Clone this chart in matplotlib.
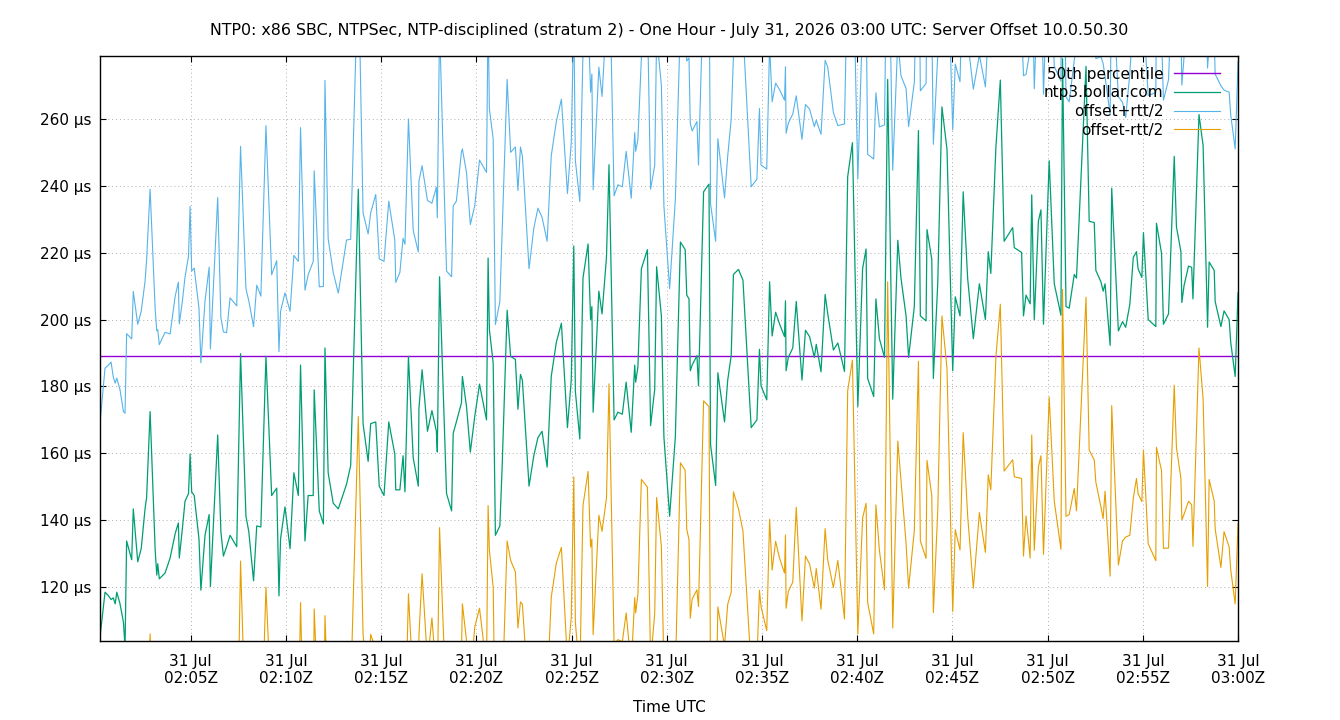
"""NTP server offset chart - one hour view"""

import pandas as pd
import numpy as np
import matplotlib
matplotlib.use('Agg')
import matplotlib.pyplot as plt
import matplotlib.dates as mdates
from matplotlib.ticker import FuncFormatter, MultipleLocator

# sample times, seconds after 2026-07-31 02:00:00 UTC
sample_secs = [
    14, 30, 41, 49, 56, 62, 67, 77, 88, 93, 98, 114, 119, 133, 144, 156, 161, 172, 188, 193,
    196, 201, 219, 235, 251, 261, 264, 274, 282, 293, 298, 303, 311, 326, 332, 345, 358, 362, 385, 395,
    403, 413, 424, 445, 457, 474, 483, 498, 508, 521, 537, 555, 571, 578, 583, 597, 613, 625,
    639, 646, 660, 670, 686, 689, 705, 718, 723, 733, 749, 765, 791, 804, 828, 843, 859, 867, 883, 894,
    909, 924, 943, 946, 959, 969, 975, 986, 1001, 1017, 1019, 1029, 1046, 1060, 1074, 1077, 1084, 1106,
    1122, 1127, 1137, 1153, 1156, 1169, 1181, 1195, 1210, 1232, 1237,
    1241, 1253, 1260, 1274, 1281, 1297, 1308, 1323, 1331, 1339, 1345, 1366, 1381, 1394, 1407, 1423,
    1436, 1452, 1468, 1487, 1499, 1507, 1512, 1526, 1536, 1552, 1560, 1564, 1568, 1586, 1596, 1610,
    1618, 1634, 1646, 1660, 1672, 1688, 1699, 1702, 1709, 1720, 1739, 1749, 1762, 1768, 1783, 1791,
    1809, 1827, 1843, 1858,
    1863, 1870, 1874, 1880, 1895, 1900, 1916, 1933, 1938, 1954, 1961, 1982, 1992, 2003, 2010, 2026,
    2040, 2066, 2084, 2092, 2097, 2115, 2124, 2132, 2143, 2155, 2171, 2174, 2176, 2183, 2197, 2208,
    2226, 2237, 2250, 2265, 2271, 2286, 2299, 2307, 2325, 2339, 2360, 2370, 2385, 2402, 2417, 2428,
    2433, 2452, 2459, 2470,
    2486, 2496, 2512, 2528, 2538, 2554, 2562, 2580, 2593, 2599, 2617, 2620, 2635, 2640, 2654, 2667,
    2683, 2701, 2709, 2724, 2734, 2748, 2766, 2785, 2804, 2813, 2821, 2837, 2851, 2863, 2890, 2895,
    2918, 2924, 2932, 2945, 2950, 2958, 2971, 2979, 2987, 3005, 3021, 3042, 3047, 3058,
    3068, 3084, 3091, 3121, 3131, 3147, 3152, 3168, 3175, 3181, 3197, 3202, 3223, 3236, 3246, 3259,
    3270, 3280, 3285, 3297, 3302, 3317, 3341, 3343, 3359, 3365, 3381, 3399, 3406, 3420, 3423, 3430,
    3444, 3454, 3458, 3477, 3490, 3504, 3509, 3525, 3528, 3546, 3556, 3572, 3577, 3591, 3600,
]

# clock offset of ntp3.bollar.com (µs)
offset_us = [
    105, 118.5, 117.4, 116.3, 116.8, 115, 118.5, 115.1, 109.5, 102, 133.8, 128.2, 143.4, 127.6, 131.5, 143.4,
    146.8, 172.5, 131, 123.6, 127, 122.5, 124.2, 128.7, 136, 139.2, 128.7, 137.8, 145.7, 148, 159.8, 148.5,
    147.4, 134.4, 119.1, 135.5, 141.7, 120.2, 165.5, 136.6, 129.3, 132.1, 135.5, 132.1, 189.8, 141.2, 136.6,
    121.9, 138.3, 138, 189, 147.4, 149.6, 117.4, 134.4, 144, 131.5, 154.2,
    147.4, 186.4, 133.8, 147.4, 147.4, 179, 142.8, 138.9, 191.5, 154.2, 145.1, 143.4, 150.8, 156.4, 239,
    168.9, 157.6, 168.9, 169.4, 150.2, 147.4, 169.4, 159.8, 149.1, 149.1, 159.3, 148.5, 189, 158.7, 150.2,
    173.4, 185, 166.6, 172.8, 166.6, 160.4, 212.8, 148, 142.8, 166, 169.4, 175.1, 183, 174, 160.4, 171.1,
    180.7, 170, 218.4,
    197.1, 187, 135.5, 138.3, 155.3, 202.8, 189, 188.1, 173.2, 183.6, 181.9, 150.2, 159.3, 164.7, 166.6,
    155.9, 183, 193.2, 198.9, 167.7, 181.9, 222, 178.5, 164.3, 212.4, 222.6, 200, 203.9, 172.3, 208.5,
    201.7, 218.6, 246.3, 170, 172.3, 171.7, 181.3, 166.3, 186.4, 181.3, 185.8, 215.2, 220.9, 168.3, 179.1,
    215.8, 201.1, 164.9, 141.2, 164.9, 223.2, 220.9,
    207.3, 206.2, 184.7, 186.4, 189.2, 180.2, 238.2, 240.5, 162.6, 150.4, 184.1, 169.4, 181.9, 189.2, 213.5,
    215, 211.8, 167.7, 170, 191.1, 180.2, 176, 211.3, 195.1, 202.2, 198.8, 194.9, 205.6, 184.7, 188.7,
    191.5, 205.4, 181.9, 196.8, 194.9, 188.7, 192.6, 184.4, 207.5, 201.9, 190.9, 193, 184.5, 242.7, 252.9,
    174, 215.2, 221.1, 182.4, 177, 206.2, 194.3,
    188.7, 271.8, 176.2, 223.7, 212.4, 201.1, 188.7, 203.9, 256.5, 201.1, 199.6, 226.9, 218.1, 182.4, 211.3,
    263.6, 250.9, 184.7, 206.8, 201.1, 238.2, 212.4, 194.3, 210.7, 200, 220.3, 213.8, 251.4, 271.6, 223.4,
    227.5, 221.5, 220.1, 201.1, 207.3, 204.7, 237.3, 200, 229.4, 232.8, 198.6, 247.5, 210.7, 201.3, 278,
    203.9,
    203.4, 213.5, 212.4, 275.7, 229.4, 229, 214.7, 211.3, 208.5, 210.7, 192.3, 239.3, 196.6, 199.4, 197.7,
    204.5, 218.6, 220.3, 215.2, 212.6, 226, 200, 197.9, 228.8, 219.8, 198.6, 201.7, 248.8, 227.7, 220.3,
    205.1, 210.2, 216, 215.6, 206.2, 261.3, 252, 197.7, 217.2, 214.7, 205.4, 197.9, 202.6, 200, 193.2,
    183, 208,
]

# half of the round trip time (µs)
half_rtt_us = [
    64, 67, 69, 71, 66, 66, 64, 64, 63, 70, 62, 66, 65, 71, 71, 68, 71, 66.5, 72, 73, 70, 70, 72, 67, 71,
    72, 70, 68, 67, 71, 74, 66, 68, 69, 68, 70, 74, 71, 71, 64, 67, 64, 71, 72, 62, 68, 69, 76, 72, 69, 69,
    66, 68, 73, 68, 64, 71, 65,
    70, 71, 75, 66, 70, 65.5, 67, 71, 80, 70, 69, 64.5, 73, 67.6, 68, 63, 68, 63, 68, 68, 70, 66, 64, 62,
    65, 65, 74, 71, 68, 70, 68, 61, 69, 62, 73, 70, 75, 66.5, 70, 68, 66, 75, 68, 70, 68, 63, 67, 74, 74,
    66, 67, 63, 67, 70, 69, 61, 63.5, 65.4, 68, 67, 65, 68, 68.6, 64, 67.5, 66, 66, 67, 70, 71, 69, 69,
    71, 68, 68, 68, 69.5, 66.5, 67, 65, 72, 65.5, 67, 68, 68, 69, 70, 69.5, 69, 68, 63, 71, 70.7, 67, 69,
    69, 69, 68, 71, 66, 66,
    70, 72, 74, 70, 70, 66, 62.5, 66.5, 72, 73, 70, 67, 67, 70.7, 65, 71.6, 75, 72, 72, 72, 66, 69, 71,
    70, 68.5, 70, 70.7, 70, 71, 70, 70, 61.5, 72, 67.5, 68, 69, 67, 71, 70, 73.7, 71, 65, 74, 64, 65, 68,
    74.6, 76, 67, 71, 61.6, 63.3,
    69.5, 60.5, 68.4, 60, 60.5, 68, 69, 67, 69, 67.3, 71, 69, 70.7, 70, 68, 62.5, 65.6, 72, 69.6, 70, 72,
    71, 74.6, 68.4, 69.6, 66.7, 64.7, 62.7, 67, 68.7, 69.4, 68.5, 67.6, 71.8, 66, 76, 71.8, 69, 73.5, 73.5,
    68.8, 70.7, 65, 70, 69, 62.7,
    61.7, 64, 69.6, 69, 68.4, 71, 63.3, 67.3, 68, 62, 69, 65, 70, 65.6, 62.7, 69, 72, 67.8, 67.2, 67, 65,
    67, 70, 67, 65, 67, 70, 68.4, 66, 67.8, 65, 68.4, 70.3, 71, 74, 69.8, 75.8, 77.5, 65, 69, 68, 72, 66,
    68, 68, 68, 69,
]

p50_us = 189.1
start = pd.Timestamp('2026-07-31 02:00:00')

times = start + pd.to_timedelta(sample_secs, unit='s')
offset = np.array(offset_us)
half_rtt = np.array(half_rtt_us)

fig = plt.figure(figsize=(13.4, 7.2), dpi=100)
ax = fig.add_axes([0.0746, 0.1097, 0.8493, 0.8125])

ax.plot([times[0], start + pd.Timedelta(seconds=3600)], [p50_us, p50_us],
        color='#9400d3', linewidth=1.0, label='50th percentile')
ax.plot(times, offset, color='#009e73', linewidth=0.9, label='ntp3.bollar.com')
ax.plot(times, offset + half_rtt, color='#56b4e9', linewidth=0.8, label='offset+rtt/2')
ax.plot(times, offset - half_rtt, color='#e69f00', linewidth=0.8, label='offset-rtt/2')

ax.set_xlim(start + pd.Timedelta(seconds=14), start + pd.Timedelta(seconds=3600))
ax.set_ylim(103.9, 278.8)

ax.xaxis.set_major_locator(mdates.MinuteLocator(byminute=range(0, 60, 5)))
ax.xaxis.set_major_formatter(mdates.DateFormatter('%d %b\n%H:%MZ'))
ax.yaxis.set_major_locator(MultipleLocator(20))
ax.yaxis.set_major_formatter(FuncFormatter(lambda v, p: f'{v:.0f} µs'))

ax.tick_params(direction='in', top=True, right=True, length=4.5, width=0.8, labelsize=11)
ax.tick_params(axis='x', pad=9)
ax.tick_params(axis='y', pad=6)
for s in ax.spines.values():
    s.set_linewidth(1.0)

ax.grid(True, color='#b0b0b0', linestyle=(0, (1, 3)), linewidth=0.7)

ax.set_title('NTP0: x86 SBC, NTPSec, NTP-disciplined (stratum 2) - One Hour - '
             'July 31, 2026 03:00 UTC: Server Offset 10.0.50.30', fontsize=11.4, pad=15)
ax.set_xlabel('Time UTC', fontsize=11, labelpad=10)

ax.legend(loc='upper right', bbox_to_anchor=(0.9938, 1.0), frameon=False,
          markerfirst=False, fontsize=11, handlelength=3.0, labelspacing=0.24,
          borderaxespad=0.3, handletextpad=0.7)

plt.savefig('out.png', dpi=100)
